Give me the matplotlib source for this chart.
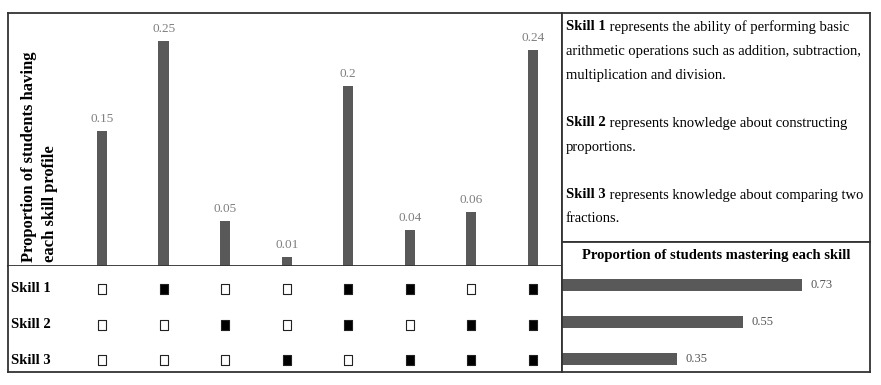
"""
Skill profile proportions with mastery matrix and per-skill mastery bars
"""

import matplotlib.pyplot as plt
import numpy as np

# --- data ---
profile_props = [0.15, 0.25, 0.05, 0.01, 0.20, 0.04, 0.06, 0.24]
profile_labels = ['0.15', '0.25', '0.05', '0.01', '0.2', '0.04', '0.06', '0.24']
skill_names = ['Skill 1', 'Skill 2', 'Skill 3']
skill1 = [0, 1, 0, 0, 1, 1, 0, 1]
skill2 = [0, 0, 1, 0, 1, 0, 1, 1]
skill3 = [0, 0, 0, 1, 0, 1, 1, 1]
mastery = [0.73, 0.55, 0.35]
mastery_labels = ['0.73', '0.55', '0.35']

desc_lines = [
    ('Skill 1', ' represents the ability of performing basic'),
    ('', 'arithmetic operations such as addition, subtraction,'),
    ('', 'multiplication and division.'),
    None,
    ('Skill 2', ' represents knowledge about constructing'),
    ('', 'proportions.'),
    None,
    ('Skill 3', ' represents knowledge about comparing two'),
    ('', 'fractions.'),
]

W, H = 881, 385
BAR_COLOR = '#595959'
LINE_COLOR = '#333333'

plt.rcParams['font.family'] = 'Liberation Serif'

fig = plt.figure(figsize=(W / 100, H / 100), dpi=100)


def px_axes(x0, y0, x1, y1):
    """Axes placed by pixel box (top-left origin)"""
    return fig.add_axes([x0 / W, 1 - y1 / H, (x1 - x0) / W, (y1 - y0) / H])


def frame(ax, sides=('left', 'right', 'top', 'bottom')):
    for name, sp in ax.spines.items():
        sp.set_visible(name in sides)
        sp.set_color(LINE_COLOR)
        sp.set_linewidth(1.3)
    ax.set_xticks([])
    ax.set_yticks([])


LEFT, MID, RIGHT = 8, 562, 870
TOP, SPLIT, BOTTOM = 13, 266, 372

# column positions in px -> data mapping
col0, col_step = 102, 61.57
xlim = ((LEFT - col0) / col_step, (MID - col0) / col_step)
x = np.arange(len(profile_props))

# --- profile bar chart ---
ax_bar = px_axes(LEFT, TOP, MID, SPLIT)
frame(ax_bar)
ax_bar.bar(x, profile_props, width=0.165, color=BAR_COLOR)
ax_bar.set_xlim(*xlim)
ax_bar.set_ylim(0, (SPLIT - TOP) / 900)
for xi, v, lab in zip(x, profile_props, profile_labels):
    ax_bar.annotate(lab, (xi, v), xytext=(0, 6.5), textcoords='offset points',
                    ha='center', va='baseline', color='#7f7f7f', fontsize=9.5)

fig.text(29 / W, 1 - 262 / H, 'Proportion of students having', rotation=90,
         ha='center', va='bottom', fontsize=12, fontweight='bold')
fig.text(50 / W, 1 - 262 / H, 'each skill profile', rotation=90,
         ha='center', va='bottom', fontsize=12, fontweight='bold')

# --- mastery pattern matrix ---
ax_mat = px_axes(LEFT, SPLIT, MID, BOTTOM)
frame(ax_mat, ('left', 'right', 'bottom'))
ax_mat.set_xlim(*xlim)
row_step = 35.5
ax_mat.set_ylim(2 + (BOTTOM - 360) / row_step, -(289 - SPLIT) / row_step)
box = [(-0.4, -0.5), (0.4, -0.5), (0.4, 0.5), (-0.4, 0.5), (-0.4, -0.5)]
for r, pattern in enumerate([skill1, skill2, skill3]):
    for xi, m in zip(x, pattern):
        ax_mat.plot(xi, r, marker=box, markersize=7.4, markeredgewidth=0.8,
                    markeredgecolor='#222222',
                    markerfacecolor='black' if m else 'white')
    ax_mat.text((11 - LEFT) / (MID - LEFT), r, skill_names[r],
                transform=ax_mat.get_yaxis_transform(), ha='left',
                va='center', fontsize=10.5, fontweight='bold')

# --- description panel ---
ax_txt = px_axes(MID, TOP, RIGHT, 242)
frame(ax_txt)
ax_txt.set_xlim(0, RIGHT - MID)
ax_txt.set_ylim(242 - TOP, 0)
y = 14
for line in desc_lines:
    if line is not None:
        bold, rest = line
        if bold:
            t = ax_txt.text(4, y, bold, fontsize=10.5, fontweight='bold',
                            ha='left', va='center')
            ax_txt.annotate(rest, xy=(1, 0.5), xycoords=t, ha='left',
                            va='center', fontsize=10.5)
        else:
            ax_txt.text(4, y, rest, fontsize=10.5, ha='left', va='center')
    y += 24

# --- mastery per skill ---
ax_h = px_axes(MID, 242, RIGHT, BOTTOM)
frame(ax_h)
xmax = (RIGHT - MID) / 329
ax_h.set_xlim(0, xmax)
ax_h.set_ylim(BOTTOM - 242, 0)
ax_h.text(xmax / 2, 14, 'Proportion of students mastering each skill',
          ha='center', va='center', fontsize=10.5, fontweight='bold')
rows_y = [285 - 242, 322 - 242, 359 - 242]
ax_h.barh(rows_y, mastery, height=12, color=BAR_COLOR)
for yy, v, lab in zip(rows_y, mastery, mastery_labels):
    ax_h.annotate(lab, (v, yy), xytext=(6, 0), textcoords='offset points',
                  ha='left', va='center', color='#555555', fontsize=9)

fig.savefig('out.png', dpi=100)
